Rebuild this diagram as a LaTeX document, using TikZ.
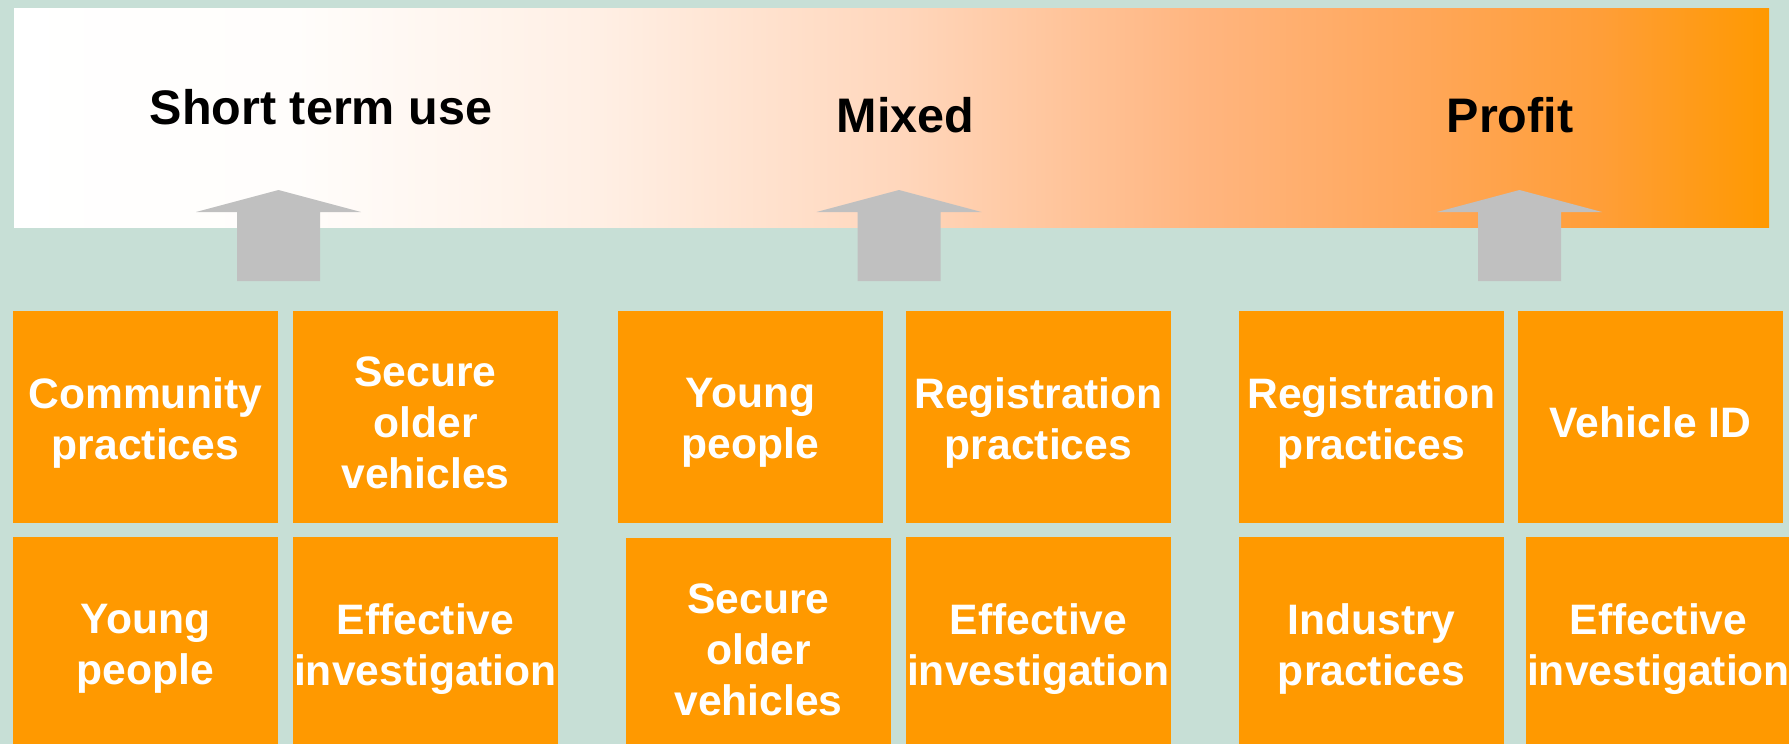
\documentclass[tikz,border=0pt]{standalone}
\usepackage{fontspec}
\setmainfont{Liberation Sans}
\definecolor{bgteal}{HTML}{C7DFD6}
\definecolor{boxorange}{HTML}{FF9900}
\definecolor{arrowgray}{HTML}{C0C0C0}
\definecolor{sA}{HTML}{FFFDFB}
\definecolor{sB}{HTML}{FFEFE4}
\definecolor{sC}{HTML}{FFD6BB}
\definecolor{sD}{HTML}{FFB57F}
\definecolor{sE}{HTML}{FFA85D}
\definecolor{sF}{HTML}{FF9E38}
\pgfdeclarehorizontalshading{bannershade}{100bp}{color(0bp)=(white); color(25bp)=(white); color(33bp)=(sA); color(41.7bp)=(sB); color(50.4bp)=(sC); color(58.8bp)=(sD); color(64.5bp)=(sE); color(70.2bp)=(sF); color(75bp)=(boxorange); color(100bp)=(boxorange)}
\tikzset{
  box/.style={fill=boxorange, inner sep=0pt, minimum width=132.5pt, minimum height=106pt},
  boxtext/.style={text=white, font=\fontsize{21.3}{25.5}\selectfont\bfseries,
    align=center, inner sep=0pt},
  titletext/.style={font=\fontsize{24.25}{29}\selectfont\bfseries, text=black, anchor=base, inner sep=0pt},
  uparrow/.pic={\fill[arrowgray] (-41.5,91) -- (-41.5,22) -- (-82.5,22) -- (0,0) -- (82.5,22) -- (41.5,22) -- (41.5,91) -- cycle;}
}
\newcommand{\labelbox}[4]{%
  \node[box] (#1) at (#2,#3) {};
  \node[boxtext] (#1t) at ([yshift=-2.8pt]#1.center) {#4};}
\begin{document}
\begin{tikzpicture}[x=0.5pt,y=-0.5pt]
\useasboundingbox (0,0) rectangle (1789,744);
\fill[bgteal] (0,0) rectangle (1789,744);
% banner
\shade[shading=bannershade] (14,8) rectangle (1769,227);
\node[titletext] (t1) at (321,124) {Short term use};
\node[titletext] (t2) at (905.5,132) {Mixed};
\node[titletext] (t3) at (1510,132) {Profit};
% arrows
\pic at (278.5,190) {uparrow};
\pic at (899,190) {uparrow};
\pic at (1519.5,190) {uparrow};
% group 1
\labelbox{a1}{145.5}{417}{Community\\practices}
\labelbox{a2}{425.5}{417}{Secure\\older\\vehicles}
\labelbox{a3}{145.5}{643}{Young\\people}
\labelbox{a4}{425.5}{643}{Effective\\investigation}
% group 2
\labelbox{b1}{750.5}{417}{Young\\people}
\labelbox{b2}{1038.5}{417}{Registration\\practices}
\labelbox{b3}{758.5}{644}{Secure\\older\\vehicles}
\labelbox{b4}{1038.5}{643}{Effective\\investigation}
% group 3
\labelbox{c1}{1371.5}{417}{Registration\\practices}
\labelbox{c2}{1650.5}{417}{Vehicle ID}
\labelbox{c3}{1371.5}{643}{Industry\\practices}
\labelbox{c4}{1658.5}{643}{Effective\\investigation}
\end{tikzpicture}
\end{document}
